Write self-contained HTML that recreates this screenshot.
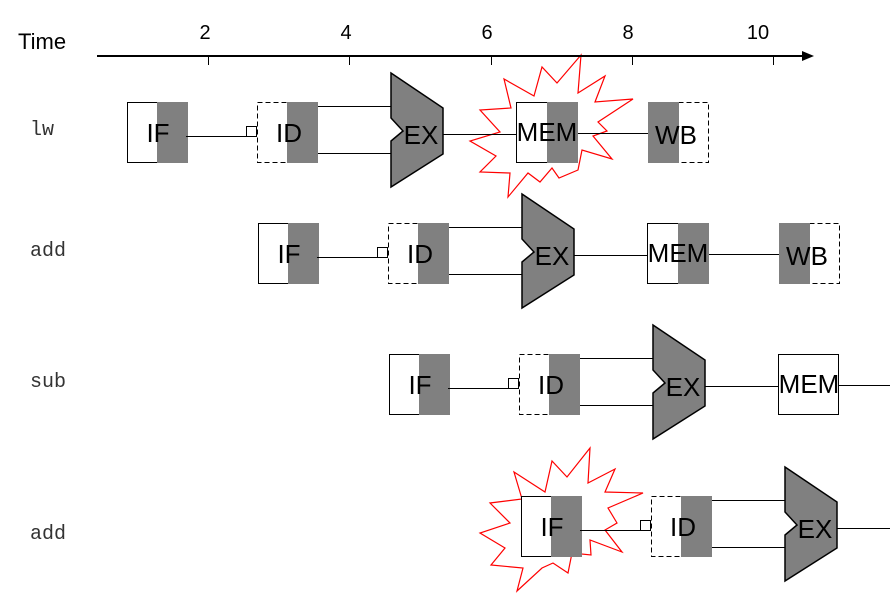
<!DOCTYPE html>
<html><head><style>body{margin:0;background:#fff}svg{display:block}</style></head><body>
<svg width="890" height="602" xmlns="http://www.w3.org/2000/svg" font-family="Liberation Sans, sans-serif">
<defs>
<g id="ifs">
<rect x="0.5" y="0.5" width="60" height="60" fill="#fff" stroke="#000"/>
<rect x="30" y="0" width="31" height="61" fill="#808080"/>
<text x="31" y="40" font-size="26" text-anchor="middle">IF</text>
<path d="M59 34.5H119" stroke="#000"/>
<rect x="119.5" y="24.5" width="10" height="10" fill="#fff" stroke="#000"/>
<rect x="130.5" y="0.5" width="60" height="60" fill="#fff" stroke="#000" stroke-dasharray="5,3"/>
<rect x="160" y="0" width="31" height="61" fill="#808080"/>
<text x="162" y="40" font-size="26" text-anchor="middle">ID</text>
<path d="M191 4.5H264M191 51.5H264" stroke="#000"/>
<polygon points="264,-29 316,6 316,52 264,85 264,39 276,29 264,16" fill="#808080" stroke="#000" stroke-width="1.5"/>
<text x="294" y="42" font-size="26" text-anchor="middle">EX</text>
<path d="M316 32.5H389" stroke="#000"/>
</g>
<g id="mw">
<rect x="389.5" y="0.5" width="60" height="60" fill="#fff" stroke="#000"/>
<rect x="420" y="0" width="31" height="61" fill="#808080"/>
<text x="420" y="39" font-size="26" text-anchor="middle">MEM</text>
<path d="M451 31.5H521" stroke="#000"/>
<rect x="551.5" y="0.5" width="30" height="60" fill="none" stroke="#000" stroke-dasharray="5,3"/>
<rect x="521" y="0" width="31" height="61" fill="#808080"/>
<text x="549" y="42" font-size="26" text-anchor="middle">WB</text>
</g>
</defs>
<polygon points="581,55 578,93 605,76 595,102 633,99 598,122 607,131 593,136 612,159 582,150 578,170 559,178 552,168 540,182 528,173 508,197 510,173 480,172 496,156 470,141 500,132 480,110 511,108 504,79 534,96 542,67 557,83" fill="#fff" stroke="#f00" stroke-width="1.2"/>
<polygon points="590,448 588,483 615,469 605,492 643,493 608,508 617,523 605,530 622,552 590,540 591,555 572,553 568,573 553,563 542,568 517,591 523,568 491,565 505,548 480,533 510,523 490,503 522,499 514,472 545,492 552,461 567,477" fill="#fff" stroke="#f00" stroke-width="1.2"/>
<text x="18" y="49" font-size="22">Time</text>
<path d="M97 56H806" stroke="#000" stroke-width="2"/>
<polygon points="814,56 802,51 802,61" fill="#000"/>
<path d="M208.5 56V65M349.5 56V65M491.5 56V65M632.5 56V65M773.5 56V65" stroke="#000"/>
<g font-size="20" text-anchor="middle"><text x="205" y="39">2</text><text x="346" y="39">4</text><text x="487" y="39">6</text><text x="628" y="39">8</text><text x="758" y="39">10</text></g>
<g font-family="Liberation Mono, monospace" font-size="20" fill="#333"><text x="30" y="135">lw</text><text x="30" y="256">add</text><text x="30" y="387">sub</text><text x="30" y="539">add</text></g>
<g transform="translate(127,102)"><use href="#ifs"/><use href="#mw"/></g>
<g transform="translate(258,223)"><use href="#ifs"/><use href="#mw"/></g>
<g transform="translate(389,354)"><use href="#ifs"/>
<rect x="389.5" y="0.5" width="60" height="60" fill="#fff" stroke="#000"/>
<text x="420" y="39" font-size="26" text-anchor="middle">MEM</text>
<path d="M450 31.5H510" stroke="#000"/></g>
<g transform="translate(521,496)"><use href="#ifs"/><path d="M316 32.5H380" stroke="#000"/></g>
</svg>
</body></html>
